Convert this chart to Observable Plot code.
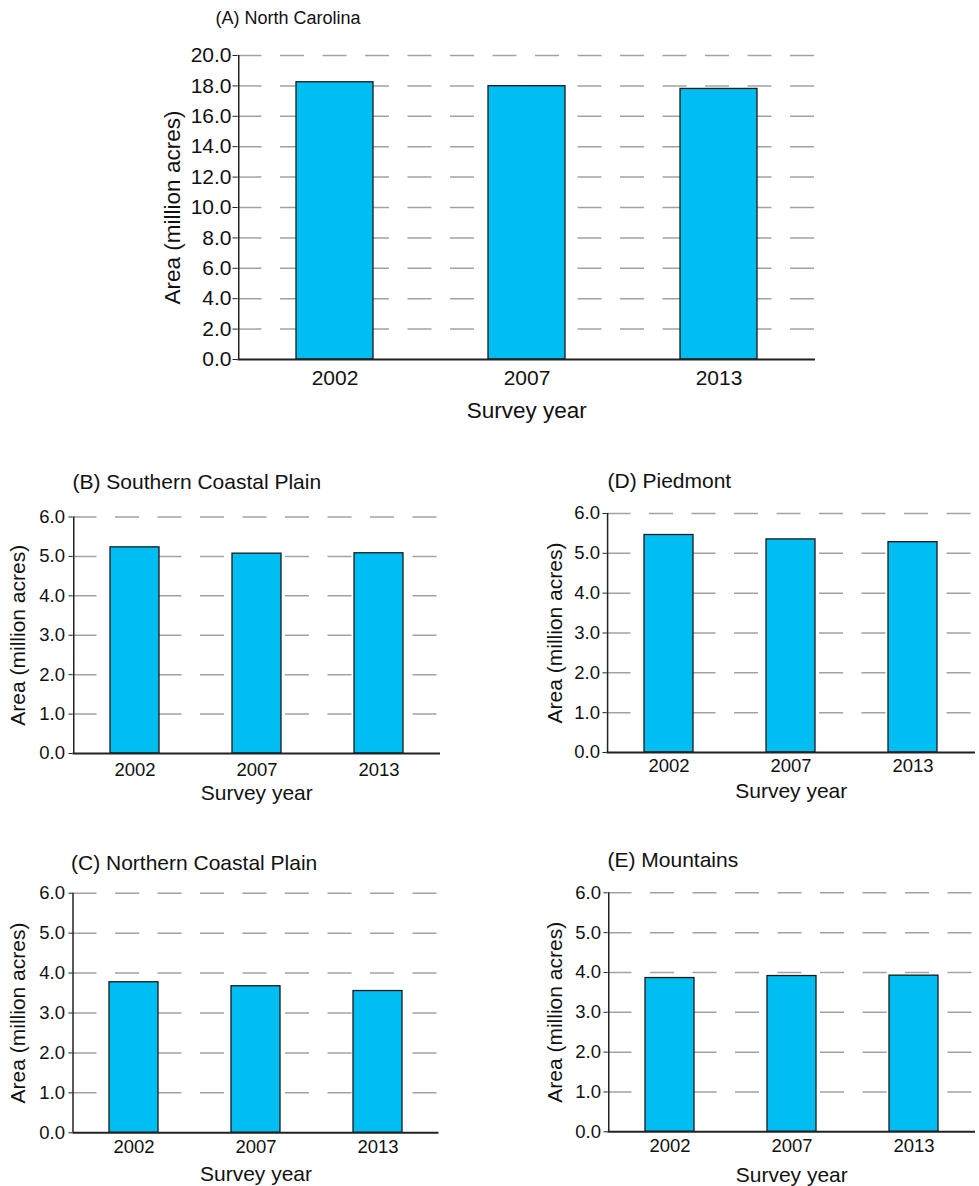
<!DOCTYPE html>
<html>
<head>
<meta charset="utf-8">
<script src="https://cdn.jsdelivr.net/npm/d3@7"></script>
<script src="https://cdn.jsdelivr.net/npm/@observablehq/plot@0.6"></script>
<style>
  html, body { margin: 0; padding: 0; background: #fff; }
  #page { position: relative; width: 979px; height: 1186px; overflow: hidden; }
  #page > div { position: absolute; }
  svg { overflow: visible; }
</style>
</head>
<body>
<div id="page"></div>
<script>
// ---- data ----
const years = ["2002", "2007", "2013"];
const northCarolina = [18.24, 17.98, 17.80];
const southernCoastalPlain = [5.23, 5.07, 5.08];
const northernCoastalPlain = [3.77, 3.67, 3.55];
const piedmont = [5.46, 5.35, 5.28];
const mountains = [3.86, 3.91, 3.92];
const ticksState = [0, 2, 4, 6, 8, 10, 12, 14, 16, 18, 20];
const ticksRegion = [0, 1, 2, 3, 4, 5, 6];
const panelTitles = ["(A) North Carolina", "(B) Southern Coastal Plain", "(C) Northern Coastal Plain", "(D) Piedmont", "(E) Mountains"];
const yLabel = "Area (million acres)";
const xLabel = "Survey year";

const FONT = "'Liberation Sans', Arial, Helvetica, sans-serif";
const page = document.getElementById("page");

function panel(o) {
  const step = (o.width - o.mL - o.mR) / years.length;
  const data = years.map((y, i) => ({year: y, value: o.values[i]}));
  const chart = Plot.plot({
    width: o.width, height: o.height,
    marginLeft: o.mL, marginRight: o.mR, marginTop: o.mT, marginBottom: o.mB,
    style: {fontFamily: FONT, background: "transparent", color: "#111", overflow: "visible"},
    x: {domain: years, paddingInner: 0.6, paddingOuter: 0.3, axis: null},
    y: {domain: [0, o.ticks[o.ticks.length - 1]], axis: null},
    marks: [
      Plot.gridY(o.ticks.filter(t => t > 0), {stroke: "#a2a2a2", strokeOpacity: 1, strokeWidth: 1.5, strokeDasharray: "24,18.5"}),
      Plot.barY(data, {x: "year", y: "value", fill: "#00BEF2", stroke: "#1a1a1a", strokeWidth: 1.3}),
      Plot.ruleY([0], {stroke: "#222", strokeWidth: 2}),
      Plot.ruleX([years[0]], {dx: -step / 2, stroke: "#222", strokeWidth: 1.5}),
      Plot.axisY(o.ticks, {tickSize: o.tickSize, tickPadding: o.tickPad, tickFormat: d3.format(".1f"), fontSize: o.tickFont, label: null, stroke: "#222"}),
      Plot.axisX({tickSize: 0, tickPadding: o.xPad, fontSize: o.tickFont, label: null}),
      Plot.text([yLabel], {frameAnchor: "left", textAnchor: "middle", lineAnchor: "middle", rotate: -90, dx: o.yLabDx, fontSize: o.labFont}),
      Plot.text([xLabel], {frameAnchor: "bottom", textAnchor: "middle", lineAnchor: "middle", dy: o.xLabDy, fontSize: o.labFont}),
      Plot.text([o.title], {frameAnchor: "top-left", textAnchor: "start", lineAnchor: "middle", dx: o.titleDx, dy: o.titleDy, fontSize: o.titleFont})
    ]
  });
  const wrap = document.createElement("div");
  wrap.style.left = o.left + "px";
  wrap.style.top = o.top + "px";
  wrap.appendChild(chart);
  page.appendChild(wrap);
}

// (A) North Carolina
panel({left: 140, top: 0, width: 700, height: 440, mL: 97.5, mR: 25, mT: 55, mB: 81,
  values: northCarolina, ticks: ticksState, title: panelTitles[0],
  tickSize: 5, tickPad: 1.5, xPad: 11, tickFont: 21, labFont: 22.5, titleFont: 18,
  yLabDx: -65.5, xLabDy: 51.5, titleDx: -22.5, titleDy: -37.5});

// (B) Southern Coastal Plain
panel({left: 0, top: 450, width: 460, height: 365, mL: 72.5, mR: 20, mT: 66.5, mB: 62,
  values: southernCoastalPlain, ticks: ticksRegion, title: panelTitles[1],
  tickSize: 4, tickPad: 4, xPad: 9, tickFont: 18.5, labFont: 21, titleFont: 21,
  yLabDx: -54.5, xLabDy: 39.5, titleDx: -0.5, titleDy: -35});

// (D) Piedmont
panel({left: 520, top: 450, width: 459, height: 365, mL: 86.5, mR: 4, mT: 63, mB: 63,
  values: piedmont, ticks: ticksRegion, title: panelTitles[3],
  tickSize: 4, tickPad: 3, xPad: 6, tickFont: 18.5, labFont: 21, titleFont: 21,
  yLabDx: -51.5, xLabDy: 38.5, titleDx: 0.5, titleDy: -32.5});

// (C) Northern Coastal Plain
panel({left: 0, top: 820, width: 460, height: 366, mL: 72.5, mR: 21.5, mT: 72.7, mB: 53.7,
  values: northernCoastalPlain, ticks: ticksRegion, title: panelTitles[2],
  tickSize: 4, tickPad: 4, xPad: 7, tickFont: 18.5, labFont: 21, titleFont: 21,
  yLabDx: -54.5, xLabDy: 41, titleDx: -2, titleDy: -29.5});

// (E) Mountains
panel({left: 520, top: 820, width: 459, height: 366, mL: 87.5, mR: 4, mT: 72.3, mB: 54.7,
  values: mountains, ticks: ticksRegion, title: panelTitles[4],
  tickSize: 4, tickPad: 3, xPad: 7, tickFont: 18.5, labFont: 21, titleFont: 21,
  yLabDx: -52.5, xLabDy: 43, titleDx: -0.5, titleDy: -33});
</script>
</body>
</html>
